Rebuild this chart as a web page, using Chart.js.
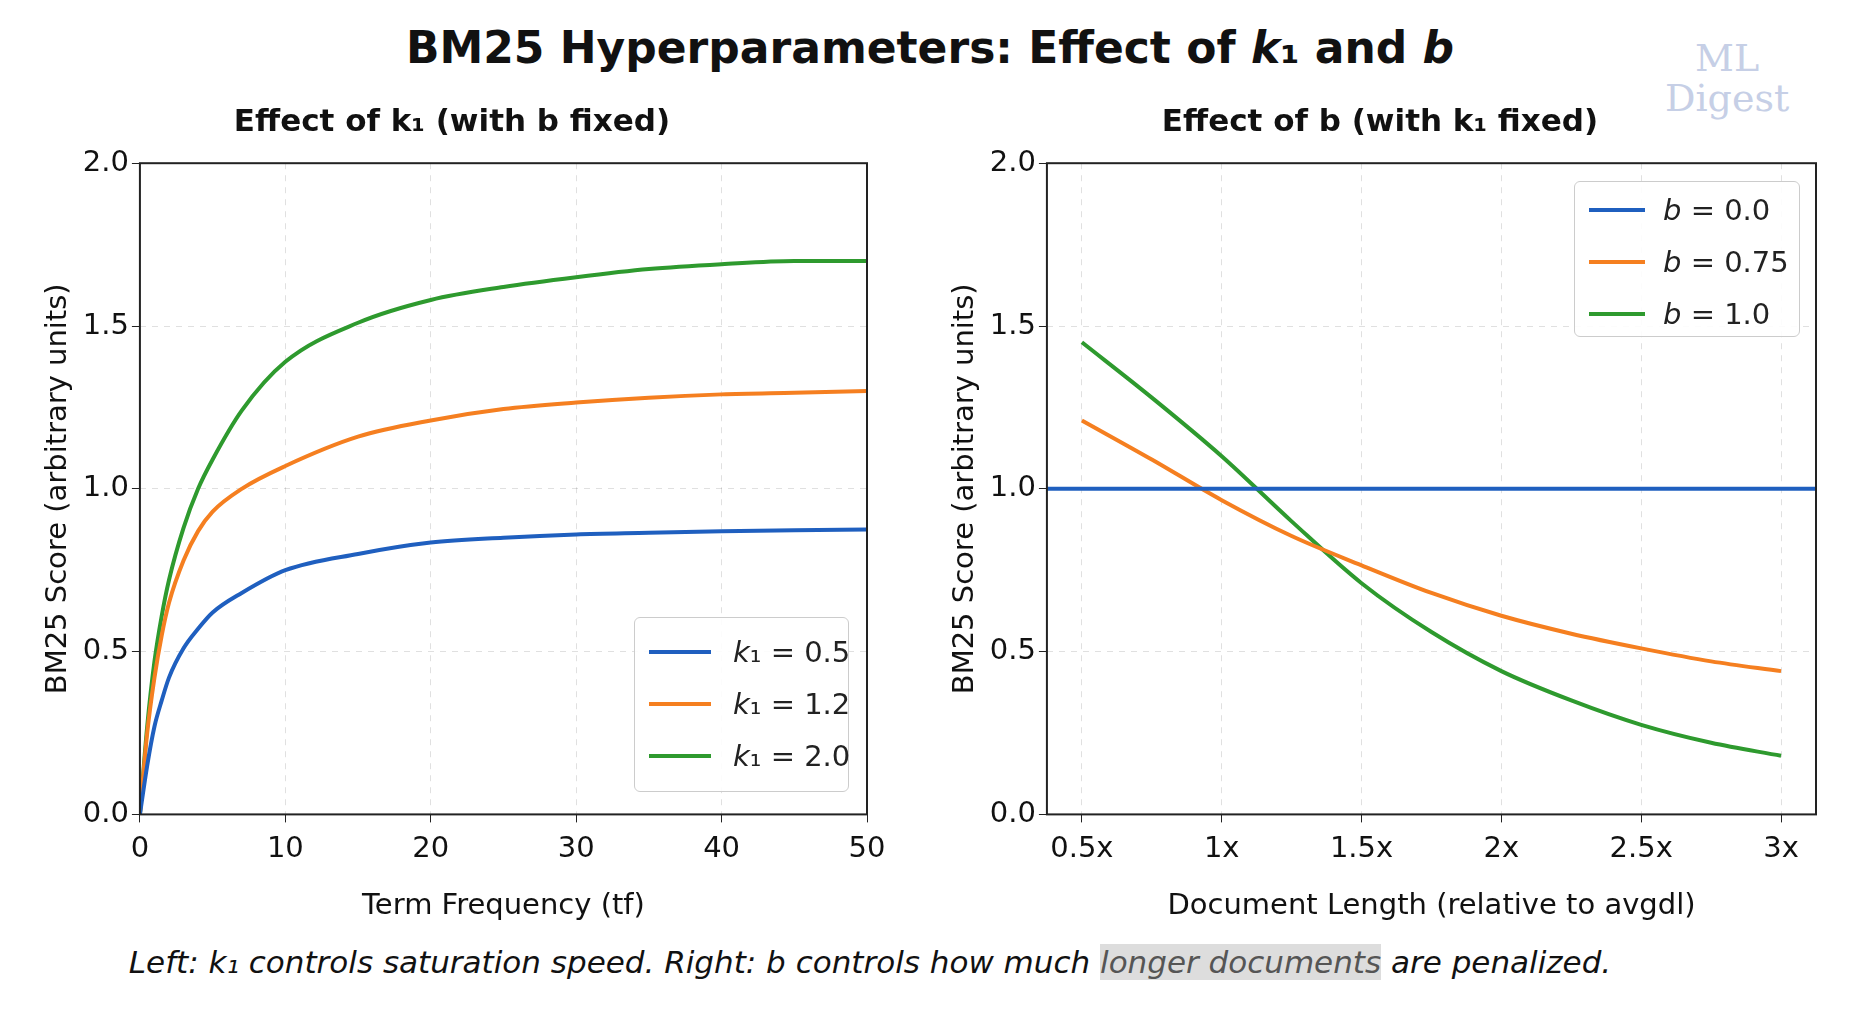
<!DOCTYPE html>
<html lang="en">
<head>
<meta charset="UTF-8">
<title>BM25 Hyperparameters</title>
<script src="https://cdn.jsdelivr.net/npm/chart.js"></script>
<style>
  body { margin: 0; width: 1860px; height: 1021px; background: #fff; font-family: 'DejaVu Sans', sans-serif; position: relative; overflow: hidden; }
  h1 { position: absolute; top: 22px; left: 0; width: 1860px; text-align: center; margin: 0; font-size: 44px; font-weight: bold; color: #111; }
  .box { position: absolute; }
  .legend { position: absolute; background: rgba(255,255,255,0.9); border: 1.5px solid #ccc; border-radius: 6px; padding: 8px 14px; font-size: 29px; color: #222; white-space: nowrap; box-sizing: border-box; }
  .legend div { display: flex; align-items: center; height: 52px; }
  .legend span.sw { display: inline-block; width: 62px; height: 4px; margin-right: 22px; flex: none; }
  .caption { position: absolute; top: 944px; left: 0; width: 1740px; text-align: center; font-size: 31px; font-style: italic; color: #111; }
  .hl { background: #ddd; color: #555; }
  .wm { position: absolute; top: 38px; left: 1665px; font-family: 'DejaVu Serif', serif; color: #c6cfe6; font-size: 38px; line-height: 40px; text-align: center; }
</style>
</head>
<body>
<h1>BM25 Hyperparameters: Effect of <i>k</i>₁ and <i>b</i></h1>
<div class="wm">ML<br>Digest</div>
<div class="box" style="left:0;top:100px;width:900px;height:840px"><canvas id="left"></canvas></div>
<div class="box" style="left:910px;top:100px;width:920px;height:840px"><canvas id="right"></canvas></div>
<div class="legend" style="left:634px;top:617px;width:215px;height:175px">
  <div><span class="sw" style="background:#1f5fbf"></span><i>k</i>₁ = 0.5</div>
  <div><span class="sw" style="background:#f57f20"></span><i>k</i>₁ = 1.2</div>
  <div><span class="sw" style="background:#2e9a2e"></span><i>k</i>₁ = 2.0</div>
</div>
<div class="legend" style="left:1574px;top:181px;width:226px;height:156px;padding-top:2px;padding-right:6px">
  <div><span class="sw" style="background:#1f5fbf;width:56px;margin-right:18px"></span><i>b</i>&nbsp;= 0.0</div>
  <div><span class="sw" style="background:#f57f20;width:56px;margin-right:18px"></span><i>b</i>&nbsp;= 0.75</div>
  <div><span class="sw" style="background:#2e9a2e;width:56px;margin-right:18px"></span><i>b</i>&nbsp;= 1.0</div>
</div>
<div class="caption">Left: <i>k</i>₁ controls saturation speed. Right: <i>b</i> controls how much <span class="hl">longer documents</span> are penalized.</div>
<script>
const tf = [0, 0.5, 1, 1.5, 2, 3, 4, 5, 7, 10, 15, 20, 25, 30, 35, 40, 45, 50];
const k1_05 = [0, 0.15, 0.27, 0.35, 0.42, 0.51, 0.57, 0.62, 0.68, 0.75, 0.80, 0.835, 0.85, 0.86, 0.865, 0.87, 0.873, 0.875];
const k1_12 = [0, 0.25, 0.42, 0.55, 0.65, 0.78, 0.87, 0.93, 1.00, 1.07, 1.16, 1.21, 1.245, 1.265, 1.28, 1.29, 1.295, 1.30];
const k1_20 = [0, 0.27, 0.47, 0.61, 0.72, 0.88, 1.00, 1.09, 1.24, 1.39, 1.51, 1.58, 1.62, 1.65, 1.675, 1.69, 1.70, 1.70];

const docLen = [0.5, 0.75, 1, 1.25, 1.5, 1.75, 2, 2.25, 2.5, 2.75, 3];
const b_00 = [1.0, 1.0];
const b_075 = [1.21, 1.09, 0.965, 0.855, 0.765, 0.68, 0.61, 0.555, 0.51, 0.47, 0.44];
const b_10 = [1.45, 1.28, 1.10, 0.90, 0.71, 0.56, 0.44, 0.35, 0.275, 0.22, 0.18];
const docTicks = ['0.5x', '1x', '1.5x', '2x', '2.5x', '3x'];

const BLUE = '#1f5fbf', ORANGE = '#f57f20', GREEN = '#2e9a2e';

const frame = {
  id: 'frame',
  afterDraw(chart) {
    const a = chart.chartArea, c = chart.ctx;
    c.save(); c.strokeStyle = '#222'; c.lineWidth = 2;
    c.strokeRect(a.left, a.top, a.right - a.left, a.bottom - a.top);
    c.restore();
  }
};

function xy(xs, ys) { return ys.map((y, i) => ({ x: xs[i], y })); }
function ds(data, color) {
  return { data, borderColor: color, borderWidth: 4, pointRadius: 0, cubicInterpolationMode: 'monotone' };
}
const font = { family: 'DejaVu Sans', size: 29 };
const grid = { color: 'rgba(0,0,0,0.12)', tickColor: '#222', tickLength: 8, drawTicks: true };

function opts(title, xTitle, xScale, pad) {
  return {
    responsive: true, maintainAspectRatio: false, animation: false,
    layout: { padding: pad },
    plugins: {
      legend: { display: false }, tooltip: { enabled: false },
      title: { display: true, text: title, color: '#111', font: { family: 'DejaVu Sans', size: 31, weight: 'bold' }, padding: { top: 0, bottom: 22 } }
    },
    scales: {
      x: Object.assign({ type: 'linear', title: { display: true, text: xTitle, color: '#111', font: { family: 'DejaVu Sans', size: 29 }, padding: { top: 12 } },
        grid: Object.assign({}, grid), border: { dash: [6, 6], color: '#222' } }, xScale),
      y: { min: 0, max: 2, title: { display: true, text: 'BM25 Score (arbitrary units)', color: '#111', font: { family: 'DejaVu Sans', size: 29 } },
        ticks: { stepSize: 0.5, color: '#111', font, callback: v => v.toFixed(1) },
        grid: grid, border: { dash: [6, 6], color: '#222' } }
    }
  };
}

new Chart(document.getElementById('left'), {
  type: 'line',
  data: { datasets: [ds(xy(tf, k1_05), BLUE), ds(xy(tf, k1_12), ORANGE), ds(xy(tf, k1_20), GREEN)] },
  options: opts('Effect of k₁ (with b fixed)', 'Term Frequency (tf)',
    { min: 0, max: 50, ticks: { stepSize: 10, color: '#111', font, padding: 10 } },
    { top: 4, right: 33, bottom: 12, left: 37 }),
  plugins: [frame]
});

new Chart(document.getElementById('right'), {
  type: 'line',
  data: { datasets: [ds(xy([0.375, 3.125], b_00), BLUE), ds(xy(docLen, b_075), ORANGE), ds(xy(docLen, b_10), GREEN)] },
  options: opts('Effect of b (with k₁ fixed)', 'Document Length (relative to avgdl)',
    { min: 0.375, max: 3.125,
      afterBuildTicks: s => { s.ticks = docTicks.map((t, i) => ({ value: 0.5 + i * 0.5 })); },
      ticks: { color: '#111', font, padding: 10, callback: v => docTicks[Math.round((v - 0.5) / 0.5)] } },
    { top: 4, right: 14, bottom: 12, left: 34 }),
  plugins: [frame]
});
</script>
</body>
</html>
